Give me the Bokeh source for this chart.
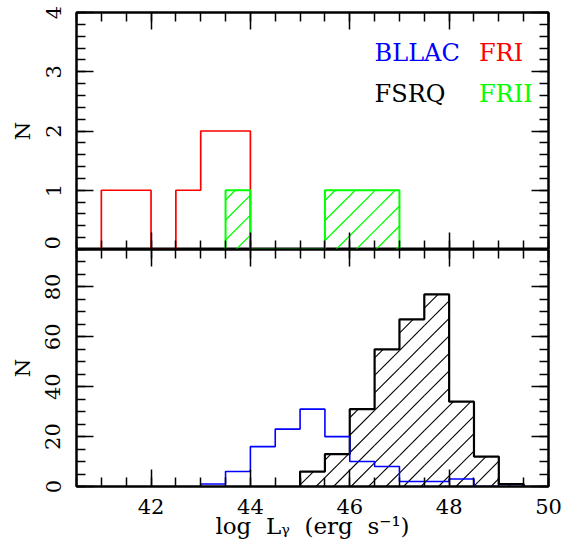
from bokeh.plotting import figure
from bokeh.models import Range1d, FixedTicker, LinearAxis, Label, CustomLabelingPolicy
from bokeh.layouts import column
from bokeh.embed import file_html
from bokeh.resources import INLINE

# ---------------- data (bin left edges, width 0.5) ----------------
bin_width = 0.5
fri_left = [41.0, 41.5, 42.0, 42.5, 43.0, 43.5]
fri_counts = [1, 1, 0, 1, 2, 2]
frii_left = [43.5, 44.0, 44.5, 45.0, 45.5, 46.0, 46.5]
frii_counts = [1, 0, 0, 0, 1, 1, 1]
bllac_left = [43.0, 43.5, 44.0, 44.5, 45.0, 45.5, 46.0, 46.5, 47.0, 47.5, 48.0, 48.5, 49.0]
bllac_counts = [1, 6, 16, 23, 31, 20, 10, 8, 2, 2, 3, 0, 0]
fsrq_left = [45.0, 45.5, 46.0, 46.5, 47.0, 47.5, 48.0, 48.5, 49.0]
fsrq_counts = [6, 13, 31, 55, 67, 77, 34, 12, 1]

x_major = [42, 44, 46, 48, 50]
x_minor = [40.5 + 0.5 * i for i in range(20)]
top_major = [0, 1, 2, 3, 4]
top_minor = [round(0.2 * i, 1) for i in range(21)]
bot_major = [0, 20, 40, 60, 80]
bot_minor = [5 * i for i in range(20)]

FONT = "DejaVu Serif"
X0, X1 = 40.5, 50.0
FRAME_W, FRAME_H = 472, 237


def outline(lefts, counts, w):
    xs, ys = [lefts[0]], [0]
    for l, c in zip(lefts, counts):
        xs += [l, l + w]
        ys += [c, c]
    xs.append(lefts[-1] + w)
    ys.append(0)
    return xs, ys


def hatch(lefts, counts, w, ymax, spacing, phase):
    """45-degree (screen) hatch segments clipped to each bar."""
    sx = FRAME_W / (X1 - X0)
    sy = FRAME_H / ymax
    x0s, y0s, x1s, y1s = [], [], [], []
    for l, c in zip(lefts, counts):
        if c <= 0:
            continue
        pl, pr, ph = (l - X0) * sx, (l + w - X0) * sx, c * sy
        k = int((pl - ph - phase) // spacing) - 1
        while True:
            cc = phase + k * spacing
            if cc > pr:
                break
            a, b = max(pl, cc), min(pr, cc + ph)
            if b > a:
                x0s.append(X0 + a / sx); y0s.append((a - cc) / sy)
                x1s.append(X0 + b / sx); y1s.append((b - cc) / sy)
            k += 1
    return x0s, y0s, x1s, y1s


NO_LABELS = CustomLabelingPolicy(code="return new Set()")


def style_axis(ax, ticks, minor, labels, vertical=False):
    ax.ticker = FixedTicker(ticks=ticks, minor_ticks=minor)
    ax.major_tick_in = 17
    ax.major_tick_out = 0
    ax.minor_tick_in = 9
    ax.minor_tick_out = 0
    ax.axis_line_width = 2
    ax.axis_line_color = "black"
    ax.major_tick_line_width = 1.5
    ax.minor_tick_line_width = 1.5
    ax.major_tick_line_color = "black"
    ax.minor_tick_line_color = "black"
    ax.major_label_text_font = FONT
    ax.major_label_text_color = "black"
    ax.axis_label_text_font = FONT
    ax.axis_label_text_font_style = "normal"
    ax.axis_label_text_color = "black"
    if labels:
        ax.major_label_text_font_size = "21px"
        ax.axis_label_text_font_size = "21px"
        if vertical:
            ax.major_label_orientation = "vertical"
    else:
        ax.major_label_policy = NO_LABELS
        ax.major_label_text_font_size = "0px"
        ax.major_label_standoff = 0


def make_fig(height, yr, bt, bb):
    p = figure(width=576, height=height, x_range=Range1d(X0, X1), y_range=yr,
               output_backend="svg", toolbar_location=None,
               x_axis_location=None, y_axis_location=None,
               min_border_left=76, min_border_right=28,
               min_border_top=bt, min_border_bottom=bb)
    p.grid.visible = False
    p.outline_line_color = "black"
    p.outline_line_width = 2
    p.background_fill_color = "white"
    p.border_fill_color = "white"
    return p


# ---------------- top panel ----------------
top = make_fig(249, Range1d(0, 4), 12, 0)
xs, ys = outline(fri_left, fri_counts, bin_width)
top.line(xs, ys, line_color="#ff0000", line_width=1.7)
hx0, hy0, hx1, hy1 = hatch(frii_left, frii_counts, bin_width, 4, 20, -0.5)
top.segment(hx0, hy0, hx1, hy1, line_color="#00ff00", line_width=1.3)
xs, ys = outline(frii_left, frii_counts, bin_width)
top.line(xs, ys, line_color="#00ff00", line_width=2)

ax = LinearAxis(); style_axis(ax, top_major, top_minor, True, True); ax.axis_label = "N"
ax.major_label_standoff = 16; ax.axis_label_standoff = 8
top.add_layout(ax, "left")
ax = LinearAxis(); style_axis(ax, top_major, top_minor, False); top.add_layout(ax, "right")
ax = LinearAxis(); style_axis(ax, x_major, x_minor, False); top.add_layout(ax, "above")
ax = LinearAxis(); style_axis(ax, x_major, x_minor, False); top.add_layout(ax, "below")

for txt, col, x, y in [("BLLAC", "#0000ff", 46.5, 3.31), ("FRI", "#ff0000", 48.6, 3.31),
                       ("FSRQ", "black", 46.5, 2.63), ("FRII", "#00ff00", 48.6, 2.63)]:
    top.add_layout(Label(x=x, y=y, text=txt, text_color=col, text_font=FONT,
                         text_font_size="24px", text_baseline="middle", text_align="left"))

# ---------------- bottom panel ----------------
bot = make_fig(295, Range1d(0, 95), 0, 58)
hx0, hy0, hx1, hy1 = hatch(fsrq_left, fsrq_counts, bin_width, 95, 17.5, 12)
bot.segment(hx0, hy0, hx1, hy1, line_color="black", line_width=1.1)
xs, ys = outline(fsrq_left, fsrq_counts, bin_width)
bot.line(xs, ys, line_color="black", line_width=2.2)
xs, ys = outline(bllac_left, bllac_counts, bin_width)
bot.line(xs, ys, line_color="#0000ff", line_width=1.6)

ax = LinearAxis(); style_axis(ax, bot_major, bot_minor, True, True); ax.axis_label = "N"
ax.major_label_standoff = 16; ax.axis_label_standoff = 8
bot.add_layout(ax, "left")
ax = LinearAxis(); style_axis(ax, bot_major, bot_minor, False); bot.add_layout(ax, "right")
ax = LinearAxis(); style_axis(ax, x_major, x_minor, False); bot.add_layout(ax, "above")
ax = LinearAxis(); style_axis(ax, x_major, x_minor, True)
ax.axis_label = "log\u00a0 L\u1d67\u00a0 (erg\u00a0 s\u207b\u00b9)"
ax.axis_label_text_font_size = "23px"
ax.major_label_standoff = 12; ax.axis_label_standoff = -4
bot.add_layout(ax, "below")

layout = column(top, bot, spacing=0)
open("out.html", "w").write(file_html(layout, INLINE))
